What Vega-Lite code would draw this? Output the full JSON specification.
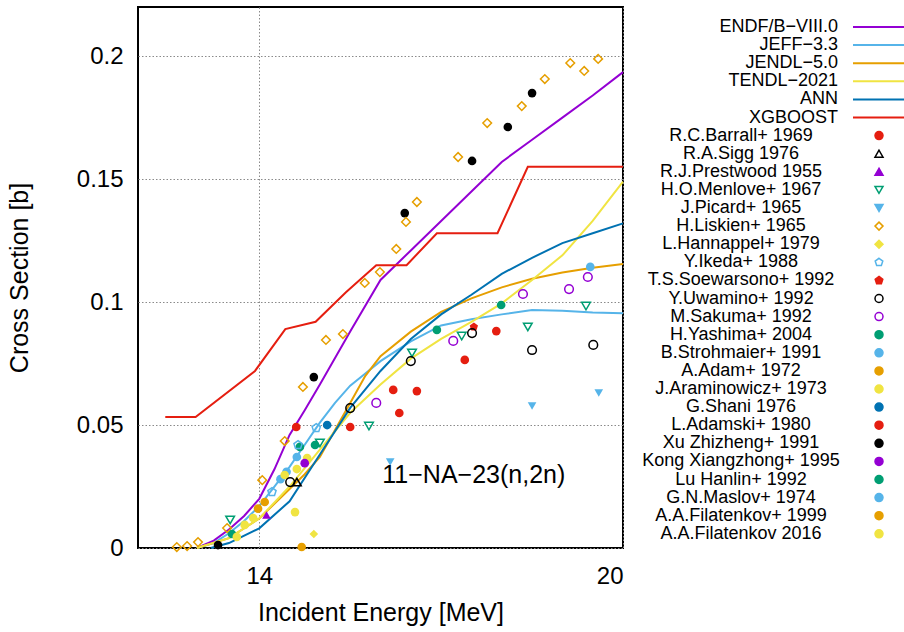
{
  "$schema": "https://vega.github.io/schema/vega-lite/v6.json",
  "width": 485,
  "height": 541,
  "autosize": {"type": "none"},
  "padding": {"left": 138, "top": 7, "right": 281, "bottom": 84},
  "background": "white",
  "config": {
    "font": "Liberation Sans",
    "view": {"stroke": "black", "strokeWidth": 2},
    "axis": {
      "labelFont": "Liberation Sans", "labelFontSize": 24, "labelColor": "black",
      "titleFont": "Liberation Sans", "titleFontSize": 25, "titleFontWeight": "normal", "titleColor": "black",
      "domain": false, "ticks": false, "grid": true,
      "gridColor": "#8a8a8a", "gridDash": [1.5, 2], "gridWidth": 1
    },
    "legend": {
      "orient": "none", "legendX": 700, "legendY": 11, "padding": 0,
      "labelFont": "Liberation Sans", "labelFontSize": 18, "labelColor": "black",
      "labelAlign": "right", "labelOffset": -50, "symbolOffset": 32,
      "symbolSize": 64, "rowPadding": 0.1, "labelLimit": 400
    }
  },
  "datasets": {
    "curves": [
      {"series": "ENDF/B−VIII.0", "E": 12.97, "xs": 0},
      {"series": "ENDF/B−VIII.0", "E": 13.25, "xs": 0.003},
      {"series": "ENDF/B−VIII.0", "E": 13.5, "xs": 0.0075},
      {"series": "ENDF/B−VIII.0", "E": 13.75, "xs": 0.013},
      {"series": "ENDF/B−VIII.0", "E": 14.0, "xs": 0.02},
      {"series": "ENDF/B−VIII.0", "E": 14.25, "xs": 0.032},
      {"series": "ENDF/B−VIII.0", "E": 14.5, "xs": 0.046},
      {"series": "ENDF/B−VIII.0", "E": 14.75, "xs": 0.056},
      {"series": "ENDF/B−VIII.0", "E": 15.0, "xs": 0.0665},
      {"series": "ENDF/B−VIII.0", "E": 15.5, "xs": 0.088},
      {"series": "ENDF/B−VIII.0", "E": 16.0, "xs": 0.109},
      {"series": "ENDF/B−VIII.0", "E": 16.5, "xs": 0.121},
      {"series": "ENDF/B−VIII.0", "E": 17.0, "xs": 0.133},
      {"series": "ENDF/B−VIII.0", "E": 17.5, "xs": 0.145},
      {"series": "ENDF/B−VIII.0", "E": 18.0, "xs": 0.157},
      {"series": "ENDF/B−VIII.0", "E": 18.5, "xs": 0.166},
      {"series": "ENDF/B−VIII.0", "E": 19.0, "xs": 0.175},
      {"series": "ENDF/B−VIII.0", "E": 19.5, "xs": 0.184},
      {"series": "ENDF/B−VIII.0", "E": 20.0, "xs": 0.1935},
      {"series": "JEFF−3.3", "E": 12.97, "xs": 0},
      {"series": "JEFF−3.3", "E": 13.25, "xs": 0.002},
      {"series": "JEFF−3.3", "E": 13.5, "xs": 0.006},
      {"series": "JEFF−3.3", "E": 13.75, "xs": 0.011},
      {"series": "JEFF−3.3", "E": 14.0, "xs": 0.017},
      {"series": "JEFF−3.3", "E": 14.25, "xs": 0.025},
      {"series": "JEFF−3.3", "E": 14.5, "xs": 0.033},
      {"series": "JEFF−3.3", "E": 14.75, "xs": 0.042},
      {"series": "JEFF−3.3", "E": 15.0, "xs": 0.051},
      {"series": "JEFF−3.3", "E": 15.25, "xs": 0.059},
      {"series": "JEFF−3.3", "E": 15.5, "xs": 0.066},
      {"series": "JEFF−3.3", "E": 15.75, "xs": 0.071},
      {"series": "JEFF−3.3", "E": 16.0, "xs": 0.076},
      {"series": "JEFF−3.3", "E": 16.5, "xs": 0.084},
      {"series": "JEFF−3.3", "E": 17.0, "xs": 0.0905},
      {"series": "JEFF−3.3", "E": 17.5, "xs": 0.093},
      {"series": "JEFF−3.3", "E": 18.0, "xs": 0.095},
      {"series": "JEFF−3.3", "E": 18.5, "xs": 0.0968},
      {"series": "JEFF−3.3", "E": 19.0, "xs": 0.0965},
      {"series": "JEFF−3.3", "E": 19.5, "xs": 0.0958},
      {"series": "JEFF−3.3", "E": 20.0, "xs": 0.0955},
      {"series": "JENDL−5.0", "E": 12.97, "xs": 0},
      {"series": "JENDL−5.0", "E": 13.5, "xs": 0.004},
      {"series": "JENDL−5.0", "E": 14.0, "xs": 0.012},
      {"series": "JENDL−5.0", "E": 14.5, "xs": 0.024},
      {"series": "JENDL−5.0", "E": 14.75, "xs": 0.03},
      {"series": "JENDL−5.0", "E": 15.0, "xs": 0.037},
      {"series": "JENDL−5.0", "E": 15.25, "xs": 0.048},
      {"series": "JENDL−5.0", "E": 15.5, "xs": 0.059},
      {"series": "JENDL−5.0", "E": 15.75, "xs": 0.07},
      {"series": "JENDL−5.0", "E": 16.0, "xs": 0.078},
      {"series": "JENDL−5.0", "E": 16.5, "xs": 0.088},
      {"series": "JENDL−5.0", "E": 17.0, "xs": 0.096},
      {"series": "JENDL−5.0", "E": 17.5, "xs": 0.1015},
      {"series": "JENDL−5.0", "E": 18.0, "xs": 0.106},
      {"series": "JENDL−5.0", "E": 18.5, "xs": 0.1095},
      {"series": "JENDL−5.0", "E": 19.0, "xs": 0.112},
      {"series": "JENDL−5.0", "E": 19.5, "xs": 0.114},
      {"series": "JENDL−5.0", "E": 20.0, "xs": 0.1155},
      {"series": "TENDL−2021", "E": 12.97, "xs": 0},
      {"series": "TENDL−2021", "E": 13.5, "xs": 0.004},
      {"series": "TENDL−2021", "E": 14.0, "xs": 0.012},
      {"series": "TENDL−2021", "E": 14.5, "xs": 0.025},
      {"series": "TENDL−2021", "E": 15.0, "xs": 0.04},
      {"series": "TENDL−2021", "E": 15.5, "xs": 0.055},
      {"series": "TENDL−2021", "E": 16.0, "xs": 0.0665},
      {"series": "TENDL−2021", "E": 16.5, "xs": 0.077},
      {"series": "TENDL−2021", "E": 17.0, "xs": 0.085},
      {"series": "TENDL−2021", "E": 17.5, "xs": 0.092},
      {"series": "TENDL−2021", "E": 18.0, "xs": 0.0995},
      {"series": "TENDL−2021", "E": 18.5, "xs": 0.109},
      {"series": "TENDL−2021", "E": 19.0, "xs": 0.119},
      {"series": "TENDL−2021", "E": 19.5, "xs": 0.133},
      {"series": "TENDL−2021", "E": 20.0, "xs": 0.149},
      {"series": "ANN", "E": 13.2, "xs": 0},
      {"series": "ANN", "E": 13.5, "xs": 0.002},
      {"series": "ANN", "E": 14.0, "xs": 0.008},
      {"series": "ANN", "E": 14.5, "xs": 0.019},
      {"series": "ANN", "E": 15.0, "xs": 0.038},
      {"series": "ANN", "E": 15.5, "xs": 0.057},
      {"series": "ANN", "E": 16.0, "xs": 0.072},
      {"series": "ANN", "E": 16.5, "xs": 0.085},
      {"series": "ANN", "E": 17.0, "xs": 0.095},
      {"series": "ANN", "E": 17.5, "xs": 0.103},
      {"series": "ANN", "E": 18.0, "xs": 0.1115},
      {"series": "ANN", "E": 18.5, "xs": 0.118},
      {"series": "ANN", "E": 19.0, "xs": 0.124},
      {"series": "ANN", "E": 19.5, "xs": 0.128},
      {"series": "ANN", "E": 20.0, "xs": 0.132},
      {"series": "XGBOOST", "E": 12.45, "xs": 0.0533},
      {"series": "XGBOOST", "E": 12.95, "xs": 0.0533},
      {"series": "XGBOOST", "E": 13.93, "xs": 0.072},
      {"series": "XGBOOST", "E": 14.43, "xs": 0.089},
      {"series": "XGBOOST", "E": 14.93, "xs": 0.092},
      {"series": "XGBOOST", "E": 15.43, "xs": 0.104},
      {"series": "XGBOOST", "E": 15.93, "xs": 0.115},
      {"series": "XGBOOST", "E": 16.43, "xs": 0.115},
      {"series": "XGBOOST", "E": 16.93, "xs": 0.128},
      {"series": "XGBOOST", "E": 17.93, "xs": 0.128},
      {"series": "XGBOOST", "E": 18.43, "xs": 0.155},
      {"series": "XGBOOST", "E": 20.0, "xs": 0.155}
    ],
    "exp": [
      {"series": "R.C.Barrall+ 1969", "E": 14.61, "xs": 0.0492},
      {"series": "R.A.Sigg 1976", "E": 14.62, "xs": 0.0268},
      {"series": "R.J.Prestwood 1955", "E": 14.12, "xs": 0.0134},
      {"series": "H.O.Menlove+ 1967", "E": 13.52, "xs": 0.0114},
      {"series": "H.O.Menlove+ 1967", "E": 15.0, "xs": 0.0427},
      {"series": "H.O.Menlove+ 1967", "E": 15.81, "xs": 0.0496},
      {"series": "H.O.Menlove+ 1967", "E": 16.52, "xs": 0.0793},
      {"series": "H.O.Menlove+ 1967", "E": 17.34, "xs": 0.0862},
      {"series": "H.O.Menlove+ 1967", "E": 18.43, "xs": 0.0899},
      {"series": "H.O.Menlove+ 1967", "E": 19.39, "xs": 0.0984},
      {"series": "J.Picard+ 1965", "E": 16.16, "xs": 0.035},
      {"series": "J.Picard+ 1965", "E": 18.5, "xs": 0.0577},
      {"series": "J.Picard+ 1965", "E": 19.6, "xs": 0.063},
      {"series": "H.Liskien+ 1965", "E": 12.64, "xs": 0.0004},
      {"series": "H.Liskien+ 1965", "E": 12.81, "xs": 0.0008},
      {"series": "H.Liskien+ 1965", "E": 12.99, "xs": 0.0024},
      {"series": "H.Liskien+ 1965", "E": 13.47, "xs": 0.0081},
      {"series": "H.Liskien+ 1965", "E": 14.05, "xs": 0.0276},
      {"series": "H.Liskien+ 1965", "E": 14.42, "xs": 0.0435},
      {"series": "H.Liskien+ 1965", "E": 14.72, "xs": 0.0655},
      {"series": "H.Liskien+ 1965", "E": 15.1, "xs": 0.0846},
      {"series": "H.Liskien+ 1965", "E": 15.38, "xs": 0.087},
      {"series": "H.Liskien+ 1965", "E": 15.74, "xs": 0.1078},
      {"series": "H.Liskien+ 1965", "E": 15.99, "xs": 0.1122},
      {"series": "H.Liskien+ 1965", "E": 16.26, "xs": 0.1216},
      {"series": "H.Liskien+ 1965", "E": 16.42, "xs": 0.1326},
      {"series": "H.Liskien+ 1965", "E": 16.6, "xs": 0.1407},
      {"series": "H.Liskien+ 1965", "E": 17.28, "xs": 0.159},
      {"series": "H.Liskien+ 1965", "E": 17.76, "xs": 0.1728},
      {"series": "H.Liskien+ 1965", "E": 18.33, "xs": 0.1797},
      {"series": "H.Liskien+ 1965", "E": 18.71, "xs": 0.1907},
      {"series": "H.Liskien+ 1965", "E": 19.13, "xs": 0.1972},
      {"series": "H.Liskien+ 1965", "E": 19.36, "xs": 0.194},
      {"series": "H.Liskien+ 1965", "E": 19.59, "xs": 0.1989},
      {"series": "L.Hannappel+ 1979", "E": 14.9, "xs": 0.0057},
      {"series": "Y.Ikeda+ 1988", "E": 14.21, "xs": 0.0228},
      {"series": "Y.Ikeda+ 1988", "E": 14.64, "xs": 0.0419},
      {"series": "Y.Ikeda+ 1988", "E": 14.94, "xs": 0.0488},
      {"series": "T.S.Soewarsono+ 1992", "E": 17.54, "xs": 0.0899},
      {"series": "Y.Uwamino+ 1992", "E": 14.51, "xs": 0.0268},
      {"series": "Y.Uwamino+ 1992", "E": 15.5, "xs": 0.0569},
      {"series": "Y.Uwamino+ 1992", "E": 16.5, "xs": 0.076},
      {"series": "Y.Uwamino+ 1992", "E": 17.51, "xs": 0.0874},
      {"series": "Y.Uwamino+ 1992", "E": 18.5, "xs": 0.0805},
      {"series": "Y.Uwamino+ 1992", "E": 19.51, "xs": 0.0826},
      {"series": "M.Sakuma+ 1992", "E": 15.93, "xs": 0.059},
      {"series": "M.Sakuma+ 1992", "E": 17.2, "xs": 0.0842},
      {"series": "M.Sakuma+ 1992", "E": 18.35, "xs": 0.1033},
      {"series": "M.Sakuma+ 1992", "E": 19.11, "xs": 0.1053},
      {"series": "M.Sakuma+ 1992", "E": 19.42, "xs": 0.1102},
      {"series": "H.Yashima+ 2004", "E": 14.92, "xs": 0.0419},
      {"series": "H.Yashima+ 2004", "E": 16.93, "xs": 0.0887},
      {"series": "H.Yashima+ 2004", "E": 17.99, "xs": 0.0988},
      {"series": "B.Strohmaier+ 1991", "E": 14.45, "xs": 0.031},
      {"series": "B.Strohmaier+ 1991", "E": 14.62, "xs": 0.037},
      {"series": "A.Adam+ 1972", "E": 14.09, "xs": 0.0187},
      {"series": "A.Adam+ 1972", "E": 14.7, "xs": 0.0004},
      {"series": "J.Araminowicz+ 1973", "E": 13.9, "xs": 0.0122},
      {"series": "J.Araminowicz+ 1973", "E": 14.59, "xs": 0.0146},
      {"series": "J.Araminowicz+ 1973", "E": 14.62, "xs": 0.0321},
      {"series": "J.Araminowicz+ 1973", "E": 14.79, "xs": 0.0366},
      {"series": "G.Shani 1976", "E": 15.12, "xs": 0.05},
      {"series": "L.Adamski+ 1980", "E": 15.5, "xs": 0.0492},
      {"series": "L.Adamski+ 1980", "E": 16.21, "xs": 0.0643},
      {"series": "L.Adamski+ 1980", "E": 16.31, "xs": 0.0549},
      {"series": "L.Adamski+ 1980", "E": 16.6, "xs": 0.0638},
      {"series": "L.Adamski+ 1980", "E": 17.39, "xs": 0.0765},
      {"series": "L.Adamski+ 1980", "E": 17.91, "xs": 0.0882},
      {"series": "Xu Zhizheng+ 1991", "E": 13.32, "xs": 0.0012},
      {"series": "Xu Zhizheng+ 1991", "E": 14.9, "xs": 0.0695},
      {"series": "Xu Zhizheng+ 1991", "E": 16.4, "xs": 0.1362},
      {"series": "Xu Zhizheng+ 1991", "E": 17.51, "xs": 0.1574},
      {"series": "Xu Zhizheng+ 1991", "E": 18.1, "xs": 0.1712},
      {"series": "Xu Zhizheng+ 1991", "E": 18.5, "xs": 0.185},
      {"series": "Kong Xiangzhong+ 1995", "E": 14.75, "xs": 0.0345},
      {"series": "Lu Hanlin+ 1992", "E": 13.55, "xs": 0.0057},
      {"series": "Lu Hanlin+ 1992", "E": 14.67, "xs": 0.0411},
      {"series": "G.N.Maslov+ 1974", "E": 14.35, "xs": 0.028},
      {"series": "G.N.Maslov+ 1974", "E": 19.46, "xs": 0.1143},
      {"series": "A.A.Filatenkov+ 1999", "E": 13.98, "xs": 0.016},
      {"series": "A.A.Filatenkov 2016", "E": 13.63, "xs": 0.0045},
      {"series": "A.A.Filatenkov 2016", "E": 13.76, "xs": 0.0094},
      {"series": "A.A.Filatenkov 2016", "E": 14.42, "xs": 0.0297}
    ],
    "note": [
      {"E": 16.03, "xs": 0.0297, "label": "11−NA−23(n,2n)"}
    ]
  },
  "encoding": {
    "x": {
      "field": "E", "type": "quantitative",
      "scale": {"domain": [12, 20], "nice": false, "zero": false},
      "axis": {"values": [14, 20], "title": "Incident Energy [MeV]", "labelPadding": 16, "titlePadding": 12, "format": "d"}
    },
    "y": {
      "field": "xs", "type": "quantitative",
      "scale": {"domain": [0, 0.22], "nice": false},
      "axis": {"values": [0, 0.05, 0.1, 0.15, 0.2], "title": "Cross Section [b]", "format": "~g", "labelPadding": 15, "titlePadding": 44}
    }
  },
  "layer": [
    {
      "data": {"name": "curves"},
      "mark": {"type": "line", "strokeWidth": 2},
      "encoding": {
        "color": {
          "field": "series", "type": "nominal",
          "scale": {
            "domain": ["ENDF/B−VIII.0", "JEFF−3.3", "JENDL−5.0", "TENDL−2021", "ANN", "XGBOOST", "R.C.Barrall+ 1969", "R.A.Sigg 1976", "R.J.Prestwood 1955", "H.O.Menlove+ 1967", "J.Picard+ 1965", "H.Liskien+ 1965", "L.Hannappel+ 1979", "Y.Ikeda+ 1988", "T.S.Soewarsono+ 1992", "Y.Uwamino+ 1992", "M.Sakuma+ 1992", "H.Yashima+ 2004", "B.Strohmaier+ 1991", "A.Adam+ 1972", "J.Araminowicz+ 1973", "G.Shani 1976", "L.Adamski+ 1980", "Xu Zhizheng+ 1991", "Kong Xiangzhong+ 1995", "Lu Hanlin+ 1992", "G.N.Maslov+ 1974", "A.A.Filatenkov+ 1999", "A.A.Filatenkov 2016"],
            "range": ["#9400d3", "#56b4e9", "#e69f00", "#f0e442", "#0072b2", "#e51e10", "#e51e10", "#000000", "#9400d3", "#009e73", "#56b4e9", "#e69f00", "#f0e442", "#56b4e9", "#e51e10", "#000000", "#9400d3", "#009e73", "#56b4e9", "#e69f00", "#f0e442", "#0072b2", "#e51e10", "#000000", "#9400d3", "#009e73", "#56b4e9", "#e69f00", "#f0e442"]
          },
          "legend": {
            "title": null,
            "encode": {
              "symbols": {"update": {
                "size": {"signal": "datum.index < 6 ? 2704 : 64"},
                "strokeWidth": {"signal": "datum.index < 6 ? 2 : 1.5"},
                "fillOpacity": {"signal": "(datum.index < 6 || datum.index == 7 || datum.index == 9 || datum.index == 11 || datum.index == 13 || datum.index == 15 || datum.index == 16) ? 0 : 1"},
                "stroke": {"signal": "scale('color', datum.value)"},
                "opacity": {"value": 1}
              }},
              "labels": {"update": {
                "align": {"signal": "datum.index < 6 ? 'right' : 'center'"},
                "dx": {"signal": "datum.index < 6 ? 0 : -97"}
              }}
            }
          }
        }
      }
    },
    {
      "data": {"name": "exp"},
      "transform": [{"filter": {"not": {"field": "series", "oneOf": ["R.A.Sigg 1976", "H.O.Menlove+ 1967", "H.Liskien+ 1965", "Y.Ikeda+ 1988", "Y.Uwamino+ 1992", "M.Sakuma+ 1992"]}}}],
      "mark": {"type": "point", "filled": true, "size": 75, "opacity": 1, "strokeWidth": 1},
      "encoding": {
        "color": {"field": "series", "type": "nominal"},
        "shape": {
          "field": "series", "type": "nominal",
          "scale": {
            "domain": ["ENDF/B−VIII.0", "JEFF−3.3", "JENDL−5.0", "TENDL−2021", "ANN", "XGBOOST", "R.C.Barrall+ 1969", "R.A.Sigg 1976", "R.J.Prestwood 1955", "H.O.Menlove+ 1967", "J.Picard+ 1965", "H.Liskien+ 1965", "L.Hannappel+ 1979", "Y.Ikeda+ 1988", "T.S.Soewarsono+ 1992", "Y.Uwamino+ 1992", "M.Sakuma+ 1992", "H.Yashima+ 2004", "B.Strohmaier+ 1991", "A.Adam+ 1972", "J.Araminowicz+ 1973", "G.Shani 1976", "L.Adamski+ 1980", "Xu Zhizheng+ 1991", "Kong Xiangzhong+ 1995", "Lu Hanlin+ 1992", "G.N.Maslov+ 1974", "A.A.Filatenkov+ 1999", "A.A.Filatenkov 2016"],
            "range": ["stroke", "stroke", "stroke", "stroke", "stroke", "stroke", "circle", "triangle-up", "triangle-up", "triangle-down", "triangle-down", "diamond", "diamond", "M0,-1L0.951,-0.309L0.588,0.809L-0.588,0.809L-0.951,-0.309Z", "M0,-1L0.951,-0.309L0.588,0.809L-0.588,0.809L-0.951,-0.309Z", "circle", "circle", "circle", "circle", "circle", "circle", "circle", "circle", "circle", "circle", "circle", "circle", "circle", "circle"]
          },
          "legend": {"title": null}
        }
      }
    },
    {
      "data": {"name": "exp"},
      "transform": [{"filter": {"field": "series", "oneOf": ["R.A.Sigg 1976", "H.O.Menlove+ 1967", "H.Liskien+ 1965", "Y.Ikeda+ 1988", "Y.Uwamino+ 1992", "M.Sakuma+ 1992"]}}],
      "mark": {"type": "point", "filled": false, "size": 75, "opacity": 1, "strokeWidth": 1.5},
      "encoding": {
        "color": {"field": "series", "type": "nominal"},
        "shape": {"field": "series", "type": "nominal"}
      }
    },
    {
      "data": {"name": "note"},
      "mark": {"type": "text", "align": "left", "baseline": "middle", "fontSize": 25, "font": "Liberation Sans", "color": "black"},
      "encoding": {"text": {"field": "label"}}
    }
  ]
}
